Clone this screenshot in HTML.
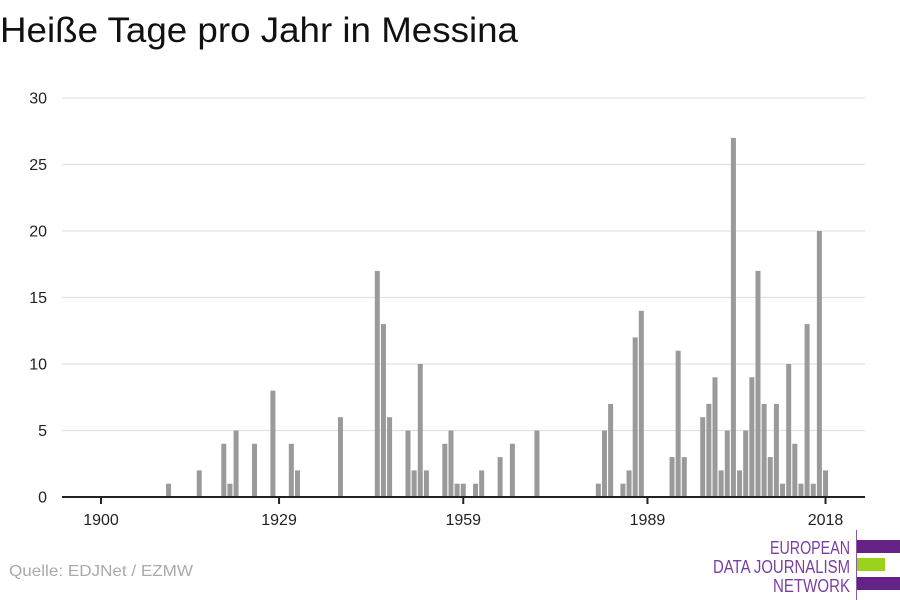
<!DOCTYPE html>
<html><head><meta charset="utf-8">
<style>
body{margin:0;background:#fff;width:900px;height:600px;overflow:hidden;font-family:"Liberation Sans",sans-serif;}
svg{display:block}
</style></head>
<body>
<svg id="chart" width="900" height="600">
<text x="0" y="42" font-size="35" fill="#111" textLength="518" lengthAdjust="spacingAndGlyphs">Heiße Tage pro Jahr in Messina</text>
<g id="grid"></g>
<g id="bars"></g>
<g id="axis"></g>
<text x="9" y="576" font-size="16" fill="#aaa" textLength="184" lengthAdjust="spacingAndGlyphs">Quelle: EDJNet / EZMW</text>
<g>
<line x1="856.5" y1="530" x2="856.5" y2="600" stroke="#8a5aa8" stroke-width="1"/>
<rect x="857" y="540" width="43" height="13" fill="#652385"/>
<rect x="857" y="558" width="28" height="13" fill="#9bd21e"/>
<rect x="857" y="577" width="43" height="13" fill="#652385"/>
<g font-family="'Liberation Sans Narrow','Liberation Sans',sans-serif" font-size="18" fill="#7a3fa0" text-anchor="end">
<text x="850" y="554" textLength="80" lengthAdjust="spacingAndGlyphs">EUROPEAN</text>
<text x="850" y="573" textLength="137" lengthAdjust="spacingAndGlyphs">DATA JOURNALISM</text>
<text x="850" y="592" textLength="77" lengthAdjust="spacingAndGlyphs">NETWORK</text>
</g>
</g>
</svg>
<script>
const years = [1911,1916,1920,1921,1922,1925,1928,1931,1932,1939,1945,1946,1947,1950,1951,1952,1953,1956,1957,1958,1959,1961,1962,1965,1967,1971,1981,1982,1983,1985,1986,1987,1988,1993,1994,1995,1998,1999,2000,2001,2002,2003,2004,2005,2006,2007,2008,2009,2010,2011,2012,2013,2014,2015,2016,2017,2018];
const values = [1,2,4,1,5,4,8,4,2,6,17,13,6,5,2,10,2,4,5,1,1,1,2,3,4,5,1,5,7,1,2,12,14,3,11,3,6,7,9,2,5,27,2,5,9,17,7,3,7,1,10,4,1,13,1,20,2];
const yTicks = [0,5,10,15,20,25,30];
const xTicks = [1900,1929,1959,1989,2018];
const NS="http://www.w3.org/2000/svg";
const x = y => 101 + (y-1900)*6.14;
const yS = v => 497 - v*13.3;
const grid=document.getElementById('grid'), bars=document.getElementById('bars'), axis=document.getElementById('axis');
function mk(tag,attrs,parent){const e=document.createElementNS(NS,tag);for(const k in attrs)e.setAttribute(k,attrs[k]);parent.appendChild(e);return e;}
yTicks.forEach(t=>{
  if(t>0){const l=mk('line',{x1:62,x2:865,y1:yS(t),y2:yS(t),stroke:'#e2e2e2','stroke-width':1.3},grid);
  
  }
  const tx=mk('text',{x:47,y:yS(t)+5.5,'font-size':16,fill:'#222','text-anchor':'end'},grid);
  tx.textContent=t;
  
  
});
years.forEach((yr,i)=>{
  const r=mk('rect',{x:x(yr)-2.5,y:yS(values[i]),width:5,height:values[i]*13.3,fill:'#9a9a9a'},bars);
  
  
});
const al=mk('line',{x1:62,x2:865,y1:497,y2:497,stroke:'#222','stroke-width':2},axis);


xTicks.forEach(t=>{
  mk('line',{x1:x(t),x2:x(t),y1:497,y2:504,stroke:'#222','stroke-width':2},axis);
  const tx=mk('text',{x:x(t),y:525,'font-size':16,fill:'#222','text-anchor':'middle'},axis);
  tx.textContent=t;
  
  
});
</script>
</body></html>
